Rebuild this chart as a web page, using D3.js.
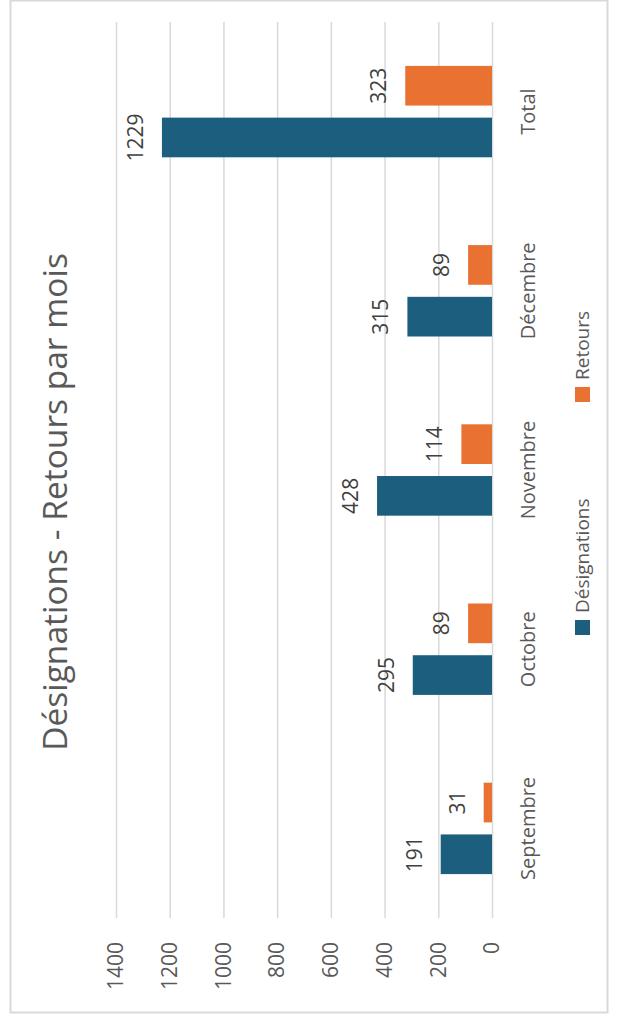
<!DOCTYPE html>
<html>
<head>
<meta charset="utf-8">
<script src="https://cdn.jsdelivr.net/npm/d3@7"></script>
<style>
  body { margin: 0; background: #fff; }
  svg { display: block; font-family: "Open Sans", sans-serif; }
</style>
</head>
<body>
<script>
const W = 620;
const H = 1025;

// data
const categories = ['Septembre', 'Octobre', 'Novembre', 'Décembre', 'Total'];
const series = ['Désignations', 'Retours'];
const designations = [191, 295, 428, 315, 1229];
const retours = [31, 89, 114, 89, 323];
const ticks = [0, 200, 400, 600, 800, 1000, 1200, 1400];
const colors = ['#1b5e7e', '#e97132'];

const svg = d3.select('body').append('svg')
  .attr('width', W)
  .attr('height', H);

// chart border
svg.append('rect')
  .attr('x', 10.5).attr('y', 0.5)
  .attr('width', 597).attr('height', 1012)
  .attr('fill', 'none')
  .attr('stroke', '#d9d9d9')
  .attr('stroke-width', 2);

// the whole column chart is laid out normally, then turned a quarter left
const g = svg.append('g')
  .attr('transform', `translate(0,${H}) rotate(-90)`);

const x0 = d3.scaleBand()
  .domain(categories)
  .range([107, 1003])
  .paddingInner(0.49)
  .paddingOuter(0.245);

const x1 = d3.scaleBand()
  .domain(series)
  .range([0, x0.bandwidth()])
  .paddingInner(0.233);

const y = d3.scaleLinear()
  .domain([0, 1400])
  .range([492, 116]);

const axis = d3.axisLeft(y)
  .tickValues(ticks)
  .tickFormat(d3.format('d'))
  .tickSize(-(1003 - 107))
  .tickPadding(24);

const ax = g.append('g')
  .attr('transform', 'translate(107,0)')
  .call(axis);
ax.select('.domain').remove();
ax.selectAll('.tick line').attr('stroke', '#d9d9d9').attr('stroke-width', 1.5);
ax.selectAll('.tick text')
  .attr('fill', '#595959')
  .style('font-size', '21px')
  .style('font-family', '"Open Sans", sans-serif');

const rows = categories.map((c, i) => ({ cat: c, vals: [designations[i], retours[i]] }));

const groups = g.selectAll('.cat')
  .data(rows)
  .enter()
  .append('g')
  .attr('class', 'cat')
  .attr('transform', d => `translate(${x0(d.cat)},0)`);

groups.selectAll('rect')
  .data(d => d.vals.map((v, j) => ({ key: series[j], v: v, j: j })))
  .enter()
  .append('rect')
  .attr('x', d => x1(d.key))
  .attr('y', d => y(d.v))
  .attr('width', x1.bandwidth())
  .attr('height', d => y(0) - y(d.v))
  .attr('fill', d => colors[d.j]);

groups.selectAll('.val')
  .data(d => d.vals.map((v, j) => ({ key: series[j], v: v })))
  .enter()
  .append('text')
  .attr('class', 'val')
  .attr('x', d => x1(d.key) + x1.bandwidth() / 2)
  .attr('y', d => y(d.v) - 19)
  .attr('text-anchor', 'middle')
  .attr('fill', '#404040')
  .style('font-size', '21px')
  .text(d => d.v);

// category labels
g.selectAll('.catlabel')
  .data(categories)
  .enter()
  .append('text')
  .attr('class', 'catlabel')
  .attr('x', d => x0(d) + x0.bandwidth() / 2)
  .attr('y', 535)
  .attr('text-anchor', 'middle')
  .attr('fill', '#595959')
  .style('font-size', '20px')
  .text(d => d);

// title
g.append('text')
  .attr('x', 523)
  .attr('y', 67)
  .attr('text-anchor', 'middle')
  .attr('fill', '#595959')
  .style('font-size', '33.5px')
  .text('Désignations - Retours par mois');

// legend
const legend = g.append('g')
  .attr('transform', 'translate(390,575)');

const legendX = [0, 233];
series.forEach((s, i) => {
  legend.append('rect')
    .attr('x', legendX[i])
    .attr('y', 0)
    .attr('width', 15)
    .attr('height', 15)
    .attr('fill', colors[i]);
  legend.append('text')
    .attr('x', legendX[i] + 22)
    .attr('y', 14)
    .attr('fill', '#595959')
    .style('font-size', '19px')
    .text(s);
});
</script>
</body>
</html>
